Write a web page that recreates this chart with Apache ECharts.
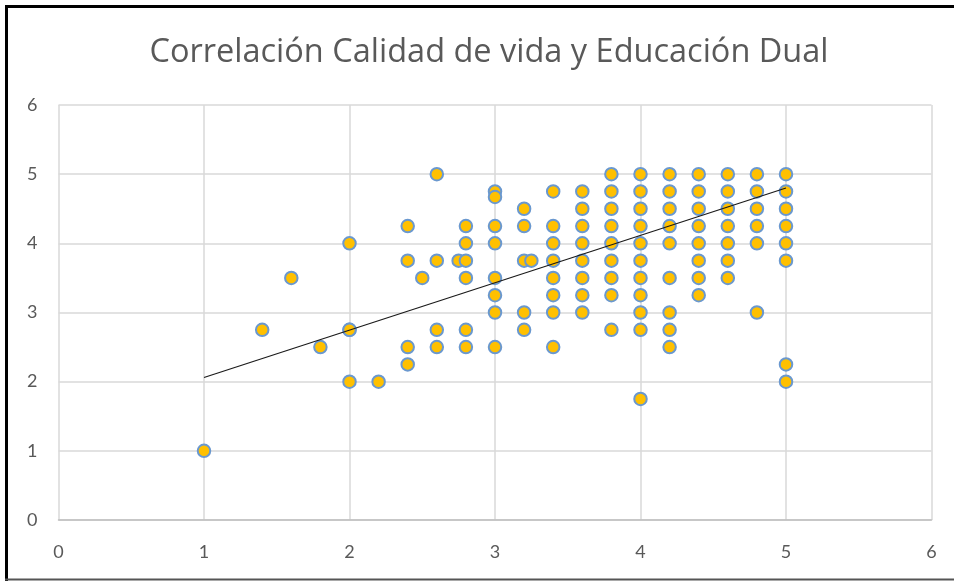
<!DOCTYPE html>
<html>
<head>
<meta charset="utf-8">
<script src="https://cdn.jsdelivr.net/npm/echarts@6/dist/echarts.min.js"></script>
<style>
html,body{margin:0;padding:0;background:#fff;}
#chart{width:954px;height:582px;}
</style>
</head>
<body>
<div id="chart"></div>
<script>
const titleText = 'Correlación Calidad de vida y Educación Dual';
const axisTicks = [0, 1, 2, 3, 4, 5, 6];

// Educación Dual (x) values, one per observation
const xValues = [
  1,
  1.4,
  1.6,
  1.8,
  2, 2, 2, 2,
  2.2,
  2.4, 2.4, 2.4, 2.4,
  2.5,
  2.6, 2.6, 2.6, 2.6,
  2.75,
  2.8, 2.8, 2.8, 2.8, 2.8, 2.8,
  3, 3, 3, 3, 3, 3, 3, 3,
  3.2, 3.2, 3.2, 3.2, 3.2,
  3.25,
  3.4, 3.4, 3.4, 3.4, 3.4, 3.4, 3.4, 3.4,
  3.6, 3.6, 3.6, 3.6, 3.6, 3.6, 3.6, 3.6,
  3.8, 3.8, 3.8, 3.8, 3.8, 3.8, 3.8, 3.8, 3.8,
  4, 4, 4, 4, 4, 4, 4, 4, 4, 4, 4,
  4.2, 4.2, 4.2, 4.2, 4.2, 4.2, 4.2, 4.2, 4.2,
  4.4, 4.4, 4.4, 4.4, 4.4, 4.4, 4.4, 4.4,
  4.6, 4.6, 4.6, 4.6, 4.6, 4.6, 4.6,
  4.8, 4.8, 4.8, 4.8, 4.8, 4.8,
  5, 5, 5, 5, 5, 5, 5, 5
];
// Calidad de vida (y) values, matching xValues
const yValues = [
  1,
  2.75,
  3.5,
  2.5,
  4, 2.75, 2.75, 2,
  2,
  4.25, 3.75, 2.5, 2.25,
  3.5,
  5, 3.75, 2.75, 2.5,
  3.75,
  4.25, 4, 3.75, 3.5, 2.75, 2.5,
  4.75, 4.67, 4.25, 4, 3.5, 3.25, 3, 2.5,
  4.5, 4.25, 3.75, 3, 2.75,
  3.75,
  4.75, 4.25, 4, 3.75, 3.5, 3.25, 3, 2.5,
  4.75, 4.5, 4.25, 4, 3.75, 3.5, 3.25, 3,
  5, 4.75, 4.5, 4.25, 4, 3.75, 3.5, 3.25, 2.75,
  5, 4.75, 4.5, 4.25, 4, 3.75, 3.5, 3.25, 3, 2.75, 1.75,
  5, 4.75, 4.5, 4.25, 4, 3.5, 3, 2.75, 2.5,
  5, 4.75, 4.5, 4.25, 4, 3.75, 3.5, 3.25,
  5, 4.75, 4.5, 4.25, 4, 3.75, 3.5,
  5, 4.75, 4.5, 4.25, 4, 3,
  5, 4.75, 4.5, 4.25, 4, 3.75, 2.25, 2
];
// Linear trend line endpoints
const trendX = [1, 5];
const trendY = [2.06, 4.80];

const points = xValues.map((x, i) => [x, yValues[i]]);
const trend = trendX.map((x, i) => [x, trendY[i]]);

const textColor = '#595959';
const labelFont = 'Lato, "Open Sans", sans-serif';
const titleFont = '"Open Sans", Lato, sans-serif';

const chart = echarts.init(document.getElementById('chart'), null, {renderer: 'canvas'});
chart.setOption({
  animation: false,
  backgroundColor: '#ffffff',
  title: {
    text: titleText,
    left: 484,
    top: 31,
    textAlign: 'center',
    textStyle: {color: textColor, fontFamily: titleFont, fontSize: 32.5, fontWeight: 'normal'}
  },
  grid: {left: 58.5, right: 22.5, top: 105, bottom: 62, containLabel: false},
  xAxis: {
    type: 'value',
    min: axisTicks[0],
    max: axisTicks[axisTicks.length - 1],
    interval: 1,
    axisLine: {show: true, lineStyle: {color: '#bfbfbf', width: 1.5}},
    axisTick: {show: false},
    axisLabel: {color: textColor, fontFamily: labelFont, fontSize: 18, margin: 23},
    splitLine: {show: true, lineStyle: {color: '#d9d9d9', width: 1.5}}
  },
  yAxis: {
    type: 'value',
    min: axisTicks[0],
    max: axisTicks[axisTicks.length - 1],
    interval: 1,
    axisLine: {show: false},
    axisTick: {show: false},
    axisLabel: {color: textColor, fontFamily: labelFont, fontSize: 18, margin: 21},
    splitLine: {show: true, lineStyle: {color: '#d9d9d9', width: 1.5}}
  },
  series: [
    {
      type: 'scatter',
      data: points,
      symbol: 'circle',
      symbolSize: 12.5,
      itemStyle: {color: '#FFC000', borderColor: '#6A98CF', borderWidth: 2, opacity: 1},
      z: 2
    },
    {
      type: 'line',
      data: trend,
      symbol: 'none',
      lineStyle: {color: '#1a1a1a', width: 1.2},
      z: 3
    }
  ],
  graphic: [
    {type: 'line', shape: {x1: 6.5, y1: 5, x2: 6.5, y2: 581}, style: {stroke: '#000', lineWidth: 3}, silent: true},
    {type: 'line', shape: {x1: 5, y1: 6.5, x2: 954, y2: 6.5}, style: {stroke: '#000', lineWidth: 3}, silent: true},
    {type: 'line', shape: {x1: 5, y1: 579.5, x2: 954, y2: 579.5}, style: {stroke: '#555', lineWidth: 2}, silent: true}
  ]
});
</script>
</body>
</html>
